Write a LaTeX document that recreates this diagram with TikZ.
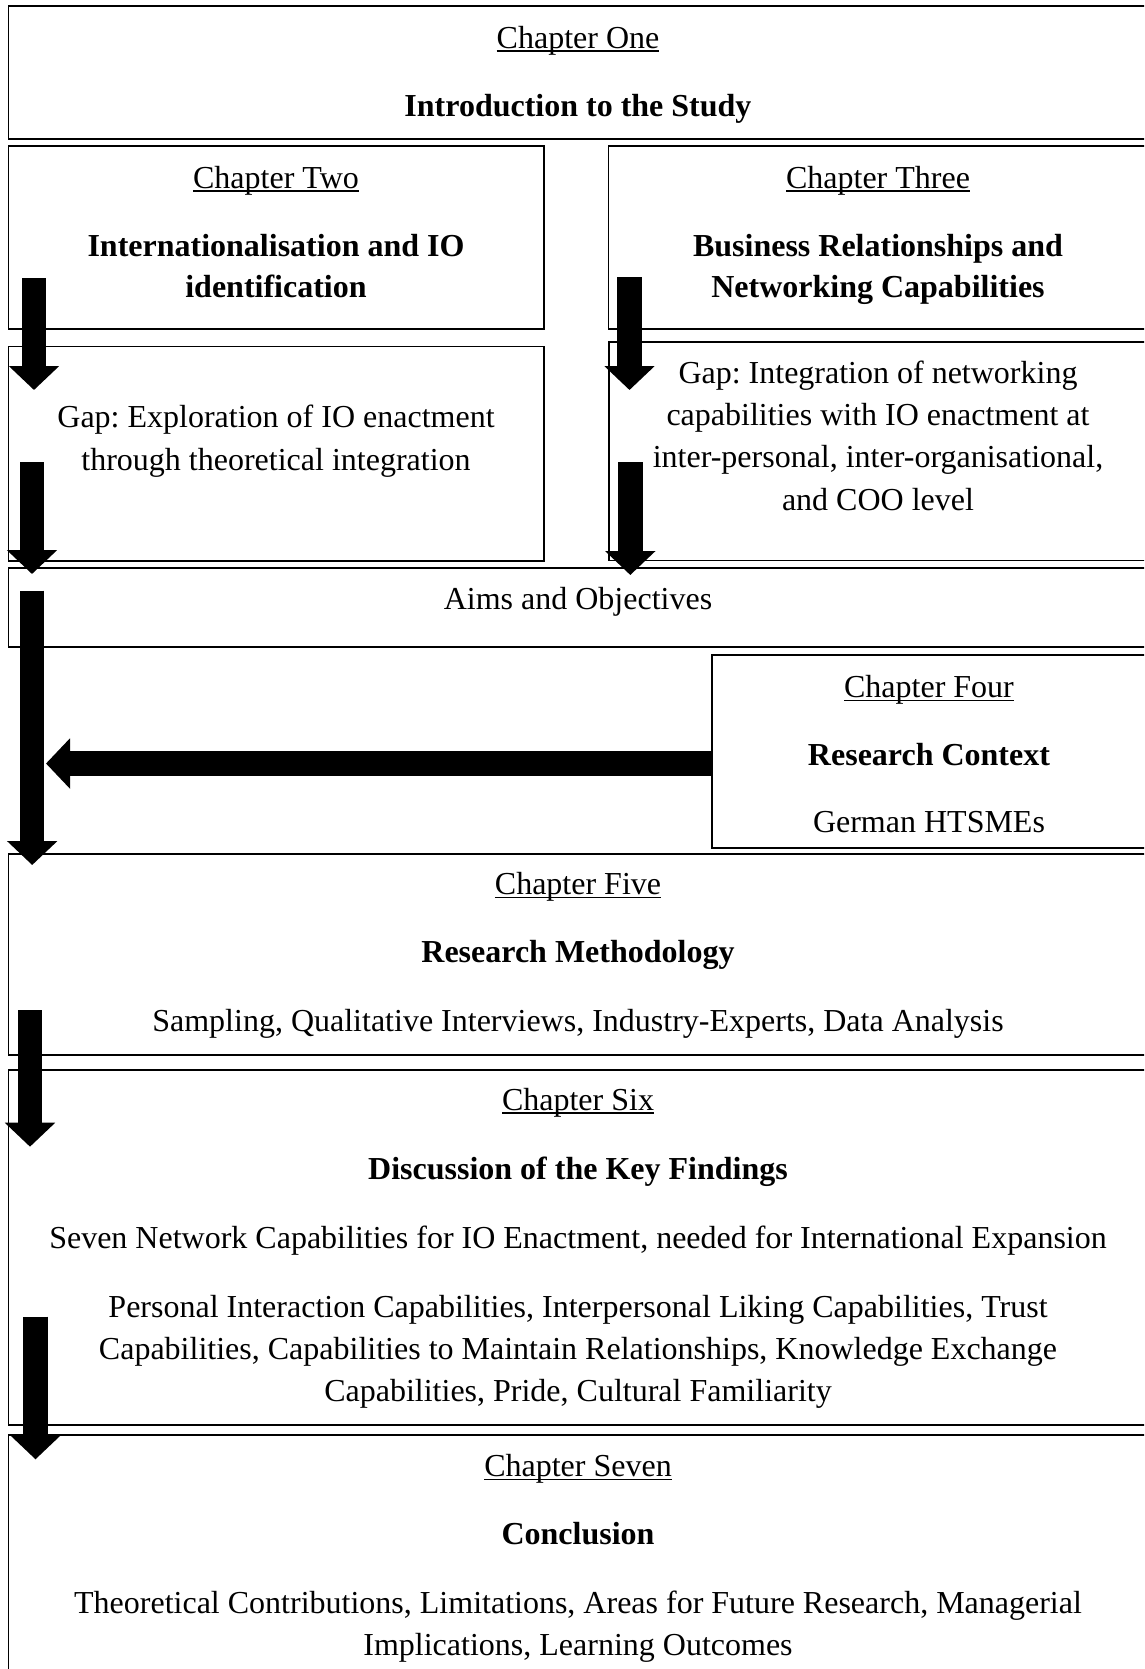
\documentclass[tikz,border=0pt]{standalone}
\usepackage{fontspec}
\setmainfont{Liberation Serif}
\usetikzlibrary{arrows.meta,fit}
\newcommand{\chapul}[1]{\setbox0\hbox{#1}\rlap{\rule[-1.4pt]{\wd0}{0.6pt}}\box0}
\frenchspacing
\begin{document}
\begin{tikzpicture}[x=0.375pt,y=-0.375pt,
  font=\fontsize{12}{16}\selectfont\frenchspacing,
  box/.style={draw, line width=0.65pt, inner sep=0pt},
  txt/.style={anchor=base, inner sep=0pt},
  blockarrow/.style={line width=9.2pt, -{Triangle[width=18.4pt,length=9pt]}}]
\useasboundingbox (0,0) rectangle (1144,1669);
\clip (0,0) rectangle (1144,1669);

% boxes
\node[box, fit={(8.5,6) (1147,139)}] (ch1) {};
\node[box, fit={(8.5,146) (544,329)}] (ch2) {};
\node[box, fit={(608.5,146) (1147,329)}] (ch3) {};
\node[box, fit={(8.5,346.5) (544,561)}] (gap2) {};
\node[box, fit={(609,342) (1147,560.5)}] (gap3) {};
\node[box, fit={(8.5,568) (1147,646.7)}] (aims) {};
\node[box, fit={(711.7,655) (1147,848.3)}] (ch4) {};
\node[box, fit={(8.5,853.8) (1147,1055)}] (ch5) {};
\node[box, fit={(8.5,1070) (1147,1425)}] (ch6) {};
\node[box, fit={(8.5,1435) (1147,1690)}] (ch7) {};

% texts
\node[txt] (t1a) at (578,48) {\chapul{Chapter One}};
\node[txt] (t1b) at (578,116) {\bfseries Introduction to the Study};

\node[txt] (t2a) at (276,188) {\chapul{Chapter Two}};
\node[txt] (t2b) at (276,256) {\bfseries Internationalisation and IO};
\node[txt] (t2c) at (276,297) {\bfseries identification};

\node[txt] (t3a) at (878,188) {\chapul{Chapter Three}};
\node[txt] (t3b) at (878,256) {\bfseries Business Relationships and};
\node[txt] (t3c) at (878,297) {\bfseries Networking Capabilities};

\node[txt] (g2a) at (276,427) {Gap: Exploration of IO enactment};
\node[txt] (g2b) at (276,470.5) {through theoretical integration};

\node[txt] (g3a) at (878,383.5) {Gap: Integration of networking};
\node[txt] (g3b) at (878,425) {capabilities with IO enactment at};
\node[txt] (g3c) at (878,467.6) {inter-personal, inter-organisational,};
\node[txt] (g3d) at (878,510) {and COO level};

\node[txt] (ta) at (578,609) {Aims and Objectives};

\node[txt] (t4a) at (929,697.5) {\chapul{Chapter Four}};
\node[txt] (t4b) at (929,765.6) {\bfseries Research Context};
\node[txt] (t4c) at (929,832.5) {German HTSMEs};

\node[txt] (t5a) at (578,894.5) {\chapul{Chapter Five}};
\node[txt] (t5b) at (578,962.5) {\bfseries Research Methodology};
\node[txt] (t5c) at (578,1031.5) {Sampling, Qualitative Interviews, Industry-Experts, Data Analysis};

\node[txt] (t6a) at (578,1110) {\chapul{Chapter Six}};
\node[txt] (t6b) at (578,1179.3) {\bfseries Discussion of the Key Findings};
\node[txt] (t6c) at (578,1248.4) {Seven Network Capabilities for IO Enactment, needed for International Expansion};
\node[txt] (t6d) at (578,1317.2) {Personal Interaction Capabilities, Interpersonal Liking Capabilities, Trust};
\node[txt] (t6e) at (578,1359) {Capabilities, Capabilities to Maintain Relationships, Knowledge Exchange};
\node[txt] (t6f) at (578,1401.5) {Capabilities, Pride, Cultural Familiarity};

\node[txt] (t7a) at (578,1476.7) {\chapul{Chapter Seven}};
\node[txt] (t7b) at (578,1544.5) {\bfseries Conclusion};
\node[txt] (t7c) at (578,1613.6) {Theoretical Contributions, Limitations, Areas for Future Research, Managerial};
\node[txt] (t7d) at (578,1655.2) {Implications, Learning Outcomes};

% arrows
\coordinate (a1s) at (34,278);    \coordinate (a1e) at (34,390);
\coordinate (a2s) at (32,462);    \coordinate (a2e) at (32,574);
\coordinate (a3s) at (629.5,277.3); \coordinate (a3e) at (629.5,390);
\coordinate (a4s) at (630.3,462.3); \coordinate (a4e) at (630.3,575);
\coordinate (a5s) at (32.2,590.7); \coordinate (a5e) at (32.2,865);
\coordinate (a6s) at (ch4.west |- 0,763.5); \coordinate (a6e) at (46,763.5);
\coordinate (a7s) at (30,1010);   \coordinate (a7e) at (30,1146.7);
\coordinate (a8s) at (35.5,1316.7); \coordinate (a8e) at (35.5,1459.3);

\draw[blockarrow] (a1s) -- (a1e);
\draw[blockarrow] (a2s) -- (a2e);
\draw[blockarrow] (a3s) -- (a3e);
\draw[blockarrow] (a4s) -- (a4e);
\draw[blockarrow] (a5s) -- (a5e);
\draw[blockarrow] (a6s) -- (a6e);
\draw[blockarrow] (a7s) -- (a7e);
\draw[blockarrow] (a8s) -- (a8e);
\end{tikzpicture}
\end{document}
